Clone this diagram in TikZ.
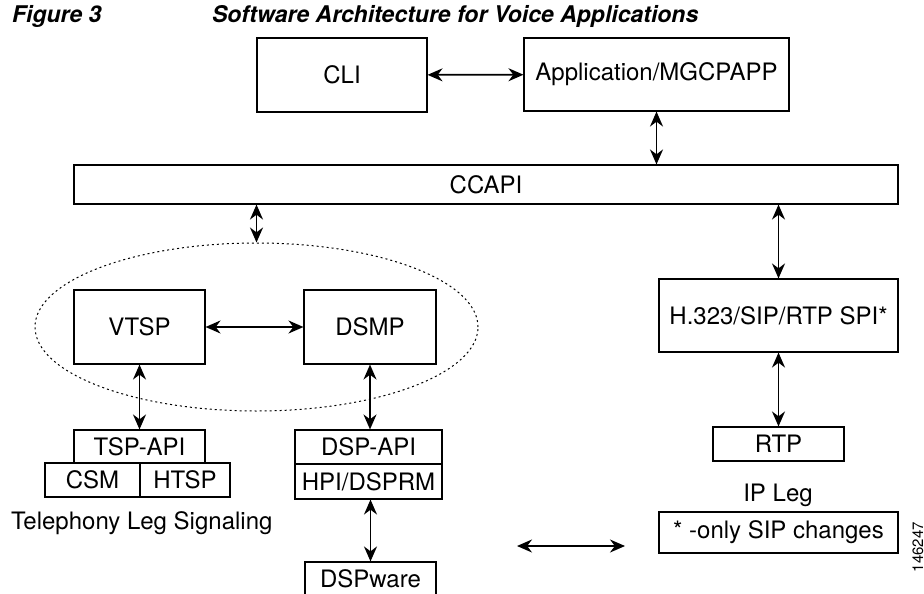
\documentclass[tikz,border=0pt]{standalone}
\usepackage{fontspec}
\setmainfont{TeX Gyre Heros}
\usetikzlibrary{arrows.meta,shapes.geometric}
\begin{document}
\begin{tikzpicture}
  [x=0.5pt,y=-0.5pt,every node/.style={font=\fontsize{12}{14}\selectfont},
   box/.style={draw,line width=0.55pt,inner sep=0pt},
   link/.style={{Stealth[length=7.5pt,width=6.5pt]}-{Stealth[length=7.5pt,width=6.5pt]},line width=0.9pt},
   headline/.style={anchor=base west,font=\fontsize{11.5}{14}\selectfont\bfseries\itshape}]
  \useasboundingbox (0,0) rectangle (924,593);
  \node[headline] (fig) at (5,23) {Figure 3};
  \node[headline] (title) at (205,23) {Software Architecture for Voice Applications};

  \node[box,minimum width=85pt,minimum height=37pt] (cli) at (342,75) {CLI};
  \node[box,minimum width=132.5pt,minimum height=36.5pt] (app) at (656.5,74.5) {Application/MGCPAPP};
  \node[box,minimum width=412pt,minimum height=19.5pt] (ccapi) at (486,184.5) {CCAPI};

  \node[draw,ellipse,line width=0.5pt,dash pattern=on 1pt off 1.5pt,minimum width=221.5pt,minimum height=84pt,inner sep=0pt] (grp) at (256.5,327) {};
  \node[box,minimum width=65.5pt,minimum height=37pt] (vtsp) at (139.5,327) {VTSP};
  \node[box,minimum width=66pt,minimum height=37pt] (dsmp) at (370,327) {DSMP};

  \node[box,minimum width=65.5pt,minimum height=16.5pt] (tspapi) at (139.5,446.5) {TSP-API};
  \node[box,minimum width=47.5pt,minimum height=17pt] (csm) at (92.5,480) {CSM};
  \node[box,minimum width=45pt,minimum height=17pt] (htsp) at (185,480) {HTSP};
  \node[anchor=west] (tls) at (4,523) {Telephony Leg Signaling};

  \node[box,minimum width=73.5pt,minimum height=17pt] (dspapi) at (368.5,447) {DSP-API};
  \node[box,minimum width=73.5pt,minimum height=17.5pt] (hpi) at (368.5,481.5) {HPI/DSPRM};
  \node[box,minimum width=65.5pt,minimum height=17pt] (dspware) at (370.5,579) {DSPware};

  \node[box,minimum width=119.5pt,minimum height=36.5pt] (h323) at (778.5,315.5) {H.323/SIP/RTP SPI*};
  \node[box,minimum width=65.5pt,minimum height=17pt] (rtp) at (778.5,444) {RTP};
  \node (ipleg) at (778,495) {IP Leg};
  \node[box,minimum width=119.5pt,minimum height=20.5pt] (note) at (778.5,532.5) {* -only SIP changes};
  \node[rotate=90,font=\fontsize{7.5}{9}\selectfont] (code) at (918,547) {146247};

  \coordinate (legl) at (517,546);
  \coordinate (legr) at (625,546);

  \draw[link] (cli) -- (app);
  \draw[link] (app.south) -- (app.south |- ccapi.north);
  \draw[link] (ccapi.south -| grp.north) -- (grp.north);
  \draw[link] (h323.north |- ccapi.south) -- (h323.north);
  \draw[link] (vtsp) -- (dsmp);
  \draw[link] (vtsp.south) -- (tspapi.north);
  \draw[link] (dsmp.south) -- (dsmp.south |- dspapi.north);
  \draw[link] (hpi.south -| dspware.north) -- (dspware.north);
  \draw[link] (h323.south) -- (rtp.north);
  \draw[link] (legl) -- (legr);
\end{tikzpicture}
\end{document}
